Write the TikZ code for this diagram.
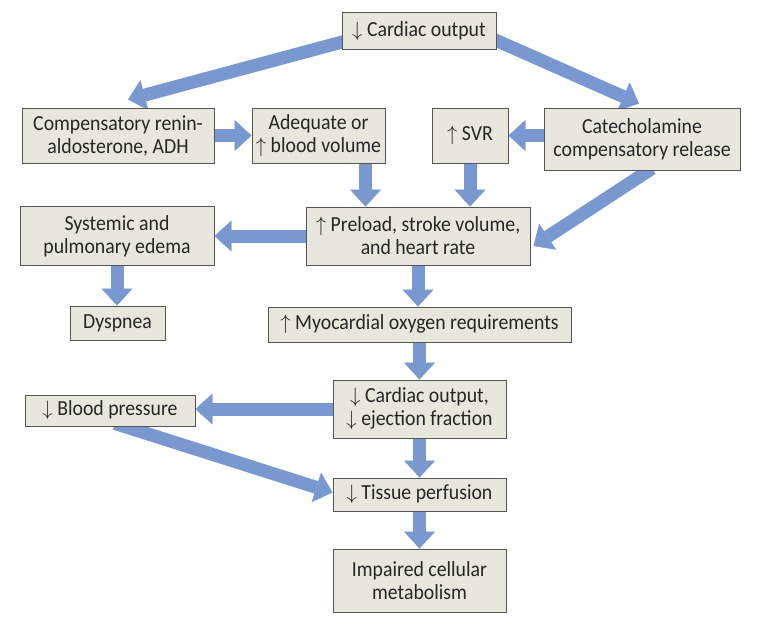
\documentclass[tikz,border=0pt]{standalone}
\usepackage{fontspec}
\setmainfont[FakeStretch=0.92]{Carlito}
\usetikzlibrary{arrows.meta,calc}
\pgfdeclarelayer{bg}
\pgfsetlayers{bg,main}
\definecolor{boxfill}{RGB}{231,231,221}
\definecolor{boxline}{RGB}{85,85,85}
\definecolor{arrowblue}{RGB}{122,152,208}
\begin{document}
\begin{tikzpicture}[x=1pt,y=-1pt,
  box/.style={draw=boxline, fill=boxfill, line width=0.9pt, align=center, inner sep=0pt,
    font=\fontsize{21.5}{23}\selectfont, text=black!85},
  blk/.style={draw=arrowblue, line width=13pt,
    -{Triangle[width=31pt,length=17pt,line width=0.4pt]}}]
\useasboundingbox (0,0) rectangle (762,625);

\node[box, minimum width=154pt, minimum height=37pt] (co1) at (419,31) {$\downarrow$ Cardiac output};
\node[box, minimum width=192pt, minimum height=55pt] (renin) at (118,135.5) {Compensatory renin-\\aldosterone, ADH};
\node[box, minimum width=133pt, minimum height=55pt] (adeq) at (318.5,135.5) {Adequate or\\$\uparrow$ blood volume};
\node[box, minimum width=76pt, minimum height=55pt] (svr) at (470,135.5) {$\uparrow$ SVR};
\node[box, minimum width=196pt, minimum height=62pt] (cat) at (642,139) {Catecholamine\\compensatory release};
\node[box, minimum width=194pt, minimum height=59pt] (sys) at (117,236) {Systemic and\\pulmonary edema};
\node[box, minimum width=224pt, minimum height=58pt] (pre) at (418,236) {$\uparrow$ Preload, stroke volume,\\and heart rate};
\node[box, minimum width=95pt, minimum height=34pt] (dys) at (117.5,323) {Dyspnea};
\node[box, minimum width=303pt, minimum height=35pt] (myo) at (419.5,324.5) {$\uparrow$ Myocardial oxygen requirements};
\node[box, minimum width=173pt, minimum height=58pt] (co2) at (419.5,409) {$\downarrow$ Cardiac output,\\$\downarrow$ ejection fraction};
\node[box, minimum width=170pt, minimum height=31pt] (bp) at (110,410.5) {$\downarrow$ Blood pressure};
\node[box, minimum width=173pt, minimum height=33pt] (tis) at (419.5,494.5) {$\downarrow$ Tissue perfusion};
\node[box, minimum width=173pt, minimum height=63pt] (imp) at (419.5,580.5) {Impaired cellular\\metabolism};

\begin{pgfonlayer}{bg}
\draw[blk] ($(co1.west)+(8,9)$) -- ($(renin.north)+(10,-8)$);
\draw[blk] ($(co1.east)+(-8,6)$) -- ($(cat.north)+(-3,-4)$);
\draw[blk] (renin.east) -- (adeq.west);
\draw[blk] (cat.west |- svr.east) -- (svr.east);
\coordinate (a1) at ($(adeq.south)+(47,0)$);
\draw[blk] (a1) -- (a1 |- pre.north);
\draw[blk] (svr.south) -- (svr.south |- pre.north);
\draw[blk] ($(cat.south)+(10,-2)$) -- ($(pre.east)+(3,10)$);
\draw[blk] (pre.west) -- (sys.east);
\draw[blk] (sys.south) -- (sys.south |- dys.north);
\draw[blk] (pre.south) -- (pre.south |- myo.north);
\draw[blk] (myo.south) -- (myo.south |- co2.north);
\draw[blk] (co2.west) -- (co2.west -| bp.east);
\draw[blk] ($(bp.south)+(5,-3)$) -- ($(tis.west)+(0,-2)$);
\draw[blk] (co2.south) -- (co2.south |- tis.north);
\draw[blk] (tis.south) -- (tis.south |- imp.north);
\end{pgfonlayer}
\end{tikzpicture}
\end{document}
